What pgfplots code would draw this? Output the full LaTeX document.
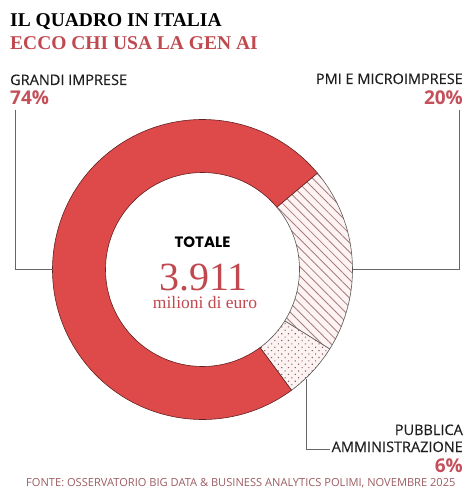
\documentclass[border=0pt]{standalone}
\usepackage{pgfplots}
\pgfplotsset{compat=1.18}
\usepackage{fontspec}
\setmainfont{Liberation Serif}
\newfontfamily\osans{Open Sans}
\newfontfamily\osansm[FakeBold=0.35]{Open Sans}
\newfontfamily\pop{Poppins}
\usetikzlibrary{patterns.meta}
\definecolor{donutred}{HTML}{DE4A4A}
\definecolor{txtred}{HTML}{C4505A}
\definecolor{titred}{HTML}{C0484F}
\definecolor{srcred}{HTML}{9C5C62}
\definecolor{hatchc}{HTML}{A87C7E}
\definecolor{dotc}{HTML}{8E5E62}
\definecolor{lightpink}{HTML}{FDF3F3}

% data (percent)
\def\vPMI{20}
\def\vPA{6}
\def\vGI{74}
% geometry
\def\cx{202.5}\def\cy{230.5}\def\Ro{150}\def\Ri{97}
\pgfmathsetmacro\aA{40}
\pgfmathsetmacro\aB{\aA-3.6*\vPMI}
\pgfmathsetmacro\aC{\aB-3.6*\vPA}
\pgfmathsetmacro\aD{\aC-3.6*\vGI}
% points
\pgfmathsetmacro\oAx{\cx+\Ro*cos(\aA)}\pgfmathsetmacro\oAy{\cy+\Ro*sin(\aA)}
\pgfmathsetmacro\oBx{\cx+\Ro*cos(\aB)}\pgfmathsetmacro\oBy{\cy+\Ro*sin(\aB)}
\pgfmathsetmacro\oCx{\cx+\Ro*cos(\aC)}\pgfmathsetmacro\oCy{\cy+\Ro*sin(\aC)}
\pgfmathsetmacro\iBx{\cx+\Ri*cos(\aB)}\pgfmathsetmacro\iBy{\cy+\Ri*sin(\aB)}
\pgfmathsetmacro\iCx{\cx+\Ri*cos(\aC)}\pgfmathsetmacro\iCy{\cy+\Ri*sin(\aC)}
\pgfmathsetmacro\iDx{\cx+\Ri*cos(\aD)}\pgfmathsetmacro\iDy{\cy+\Ri*sin(\aD)}

\begin{document}
\begin{tikzpicture}
\path[use as bounding box] (0,0) rectangle (475bp,500bp);
\begin{axis}[
  at={(0,0)}, anchor=south west,
  scale only axis, width=475bp, height=500bp,
  xmin=0, xmax=475, ymin=0, ymax=500,
  enlargelimits=false, hide axis, clip=false]
% PMI hatched
\fill[lightpink] (axis cs:\oAx,\oAy) arc[start angle=\aA, end angle=\aB, radius=\Ro bp] -- (axis cs:\iBx,\iBy) arc[start angle=\aB, end angle=\aA, radius=\Ri bp] -- cycle;
\fill[pattern={Lines[angle=-45,distance=6.5bp,line width=0.85bp]}, pattern color=hatchc] (axis cs:\oAx,\oAy) arc[start angle=\aA, end angle=\aB, radius=\Ro bp] -- (axis cs:\iBx,\iBy) arc[start angle=\aB, end angle=\aA, radius=\Ri bp] -- cycle;
\draw[black!65, line width=0.6bp] (axis cs:\oAx,\oAy) arc[start angle=\aA, end angle=\aB, radius=\Ro bp] -- (axis cs:\iBx,\iBy) arc[start angle=\aB, end angle=\aA, radius=\Ri bp] -- cycle;
% PA dotted
\fill[lightpink] (axis cs:\oBx,\oBy) arc[start angle=\aB, end angle=\aC, radius=\Ro bp] -- (axis cs:\iCx,\iCy) arc[start angle=\aC, end angle=\aB, radius=\Ri bp] -- cycle;
\fill[pattern={Dots[angle=45,distance=4.8bp,radius=0.8bp]}, pattern color=dotc] (axis cs:\oBx,\oBy) arc[start angle=\aB, end angle=\aC, radius=\Ro bp] -- (axis cs:\iCx,\iCy) arc[start angle=\aC, end angle=\aB, radius=\Ri bp] -- cycle;
\draw[black!65, line width=0.6bp] (axis cs:\oBx,\oBy) arc[start angle=\aB, end angle=\aC, radius=\Ro bp] -- (axis cs:\iCx,\iCy) arc[start angle=\aC, end angle=\aB, radius=\Ri bp] -- cycle;
% GI red
\filldraw[fill=donutred, draw=black!55!donutred, line width=0.6bp] (axis cs:\oCx,\oCy) arc[start angle=\aC, end angle=\aD, radius=\Ro bp] -- (axis cs:\iDx,\iDy) arc[start angle=\aD, end angle=\aC, radius=\Ri bp] -- cycle;
% leader lines
\draw[black!60, line width=0.9bp] (axis cs:15,390) -- (axis cs:15,230.5) -- (axis cs:52.5,230.5);
\draw[black!60, line width=0.9bp] (axis cs:459,390) -- (axis cs:459,230.5) -- (axis cs:352.5,230.5);
\draw[black!60, line width=0.9bp] (axis cs:306,121) -- (axis cs:306,51) -- (axis cs:330,51);
% titles
\node[anchor=base west, inner sep=0pt, font=\fontsize{19.5bp}{22bp}\selectfont\bfseries] at (axis cs:10,473) {IL QUADRO IN ITALIA};
\node[anchor=base west, inner sep=0pt, text=titred, font=\fontsize{19.5bp}{22bp}\selectfont\bfseries] at (axis cs:10,450) {ECCO CHI USA LA GEN AI};
% labels
\node[anchor=base west, inner sep=0pt, text=black!88, font=\osansm\fontsize{14.5bp}{16bp}\selectfont] at (axis cs:10,415) {GRANDI IMPRESE};
\node[anchor=base west, inner sep=0pt, text=txtred, font=\osans\fontsize{19bp}{21bp}\selectfont\bfseries] at (axis cs:10,395) {\vGI\%};
\node[anchor=base east, inner sep=0pt, text=black!88, font=\osansm\fontsize{14.5bp}{16bp}\selectfont] at (axis cs:463,416) {PMI E MICROIMPRESE};
\node[anchor=base east, inner sep=0pt, text=txtred, font=\osans\fontsize{19bp}{21bp}\selectfont\bfseries] at (axis cs:463,395) {\vPMI\%};
\node[anchor=base east, inner sep=0pt, text=black!88, font=\osansm\fontsize{14.5bp}{16bp}\selectfont] at (axis cs:463,65) {PUBBLICA};
\node[anchor=base east, inner sep=0pt, text=black!88, font=\osansm\fontsize{14.5bp}{16bp}\selectfont] at (axis cs:463,48) {AMMINISTRAZIONE};
\node[anchor=base east, inner sep=0pt, text=txtred, font=\osans\fontsize{19bp}{21bp}\selectfont\bfseries] at (axis cs:463,28) {\vPA\%};
% centre
\node[anchor=base, inner sep=0pt, text=black, font=\pop\fontsize{15bp}{17bp}\selectfont\bfseries] at (axis cs:202.5,253) {TOTALE};
\node[anchor=base, inner sep=0pt, text=titred, font=\fontsize{40bp}{44bp}\selectfont] at (axis cs:203.5,210) {3.911};
\node[anchor=base, inner sep=0pt, text=titred, font=\fontsize{17.5bp}{20bp}\selectfont] at (axis cs:205,192) {milioni di euro};
% source
\node[anchor=base west, inner sep=0pt, text=srcred, font=\osans\fontsize{11.1bp}{13bp}\selectfont] at (axis cs:26,14) {FONTE: OSSERVATORIO BIG DATA \& BUSINESS ANALYTICS POLIMI, NOVEMBRE 2025};
\end{axis}
\end{tikzpicture}
\end{document}
